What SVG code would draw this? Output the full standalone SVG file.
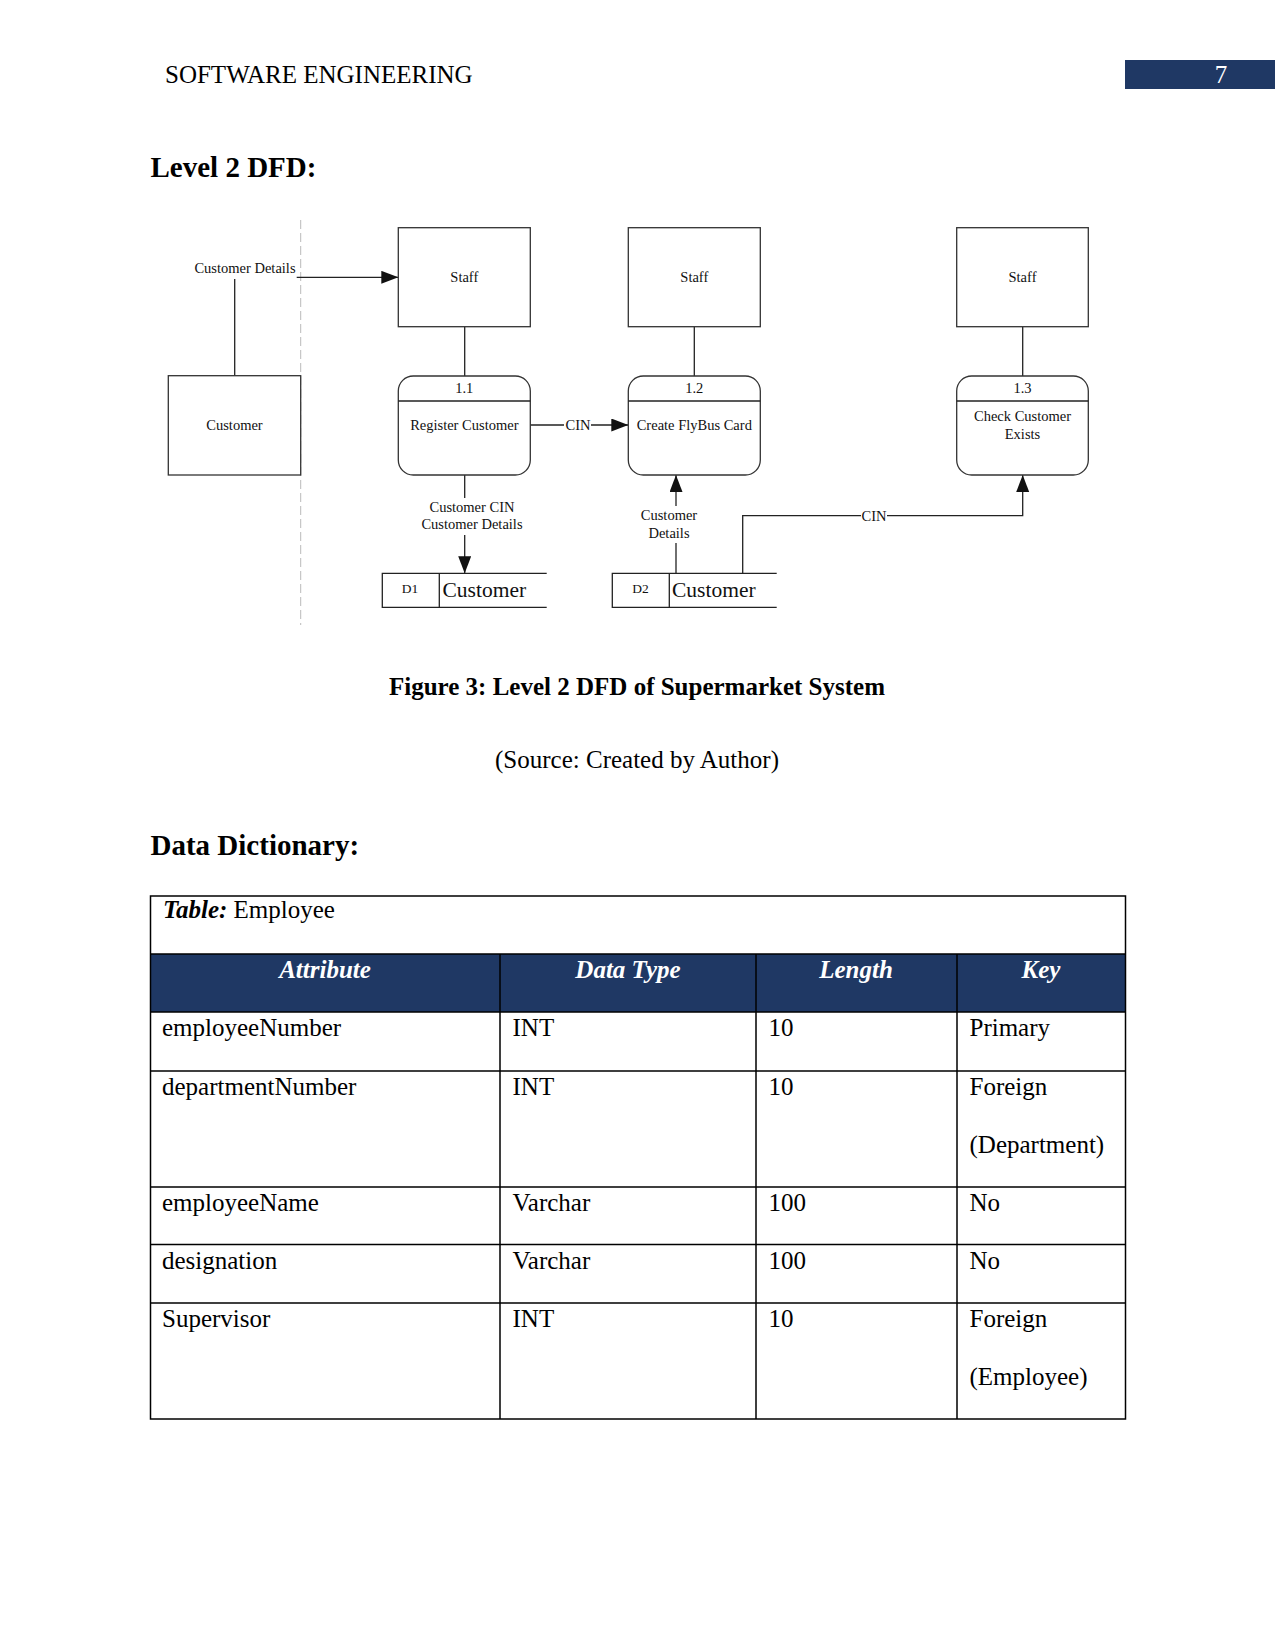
<svg xmlns="http://www.w3.org/2000/svg" width="1275" height="1651" viewBox="0 0 1275 1651">
<style>
.pg{font-family:"Liberation Serif","Times New Roman",serif;font-size:25px;fill:#000}
.b{font-weight:bold}
.h{font-family:"Liberation Serif","Times New Roman",serif;font-size:29px;font-weight:bold;fill:#000}
.d{font-family:"Liberation Serif","Times New Roman",serif;font-size:14.5px;fill:#111}
.ds{font-family:"Liberation Serif","Times New Roman",serif;font-size:13.5px;fill:#111}
.dl{font-family:"Liberation Serif","Times New Roman",serif;font-size:21.5px;fill:#111}
.box{fill:#fff;stroke:#333;stroke-width:1.3}
.ln{fill:none;stroke:#222;stroke-width:1.3}
.th{font-family:"Liberation Serif","Times New Roman",serif;font-size:25px;font-weight:bold;font-style:italic;fill:#fff}
.grid{stroke:#000;stroke-width:1.5;fill:none}
</style>
<defs>
<marker id="ar" markerUnits="userSpaceOnUse" markerWidth="18" markerHeight="14" refX="17" refY="6.5" orient="auto">
<path d="M0,0 L17,6.5 L0,13 z" fill="#111"/>
</marker>
</defs>
<rect width="1275" height="1651" fill="#fff"/>

<g id="header">
<text class="pg" x="165" y="83">SOFTWARE ENGINEERING</text>
<rect x="1125" y="60" width="150" height="29" fill="#1f3864"/>
<text class="pg" x="1221" y="83" text-anchor="middle" style="fill:#fff">7</text>
</g>
<text class="h" x="150.5" y="177">Level 2 DFD:</text>

<line x1="300.7" y1="220" x2="300.7" y2="625" stroke="#bbb" stroke-width="1" stroke-dasharray="9 4"/>

<g id="connectors">
<path class="ln" d="M234.7,375.7 V279"/>
<path class="ln" d="M296.7,277.3 H398.3" marker-end="url(#ar)"/>
<path class="ln" d="M464.7,326.7 V376"/>
<path class="ln" d="M694.3,326.7 V376"/>
<path class="ln" d="M1022.7,326.7 V376"/>
<path class="ln" d="M530.3,425 H564"/>
<path class="ln" d="M591,425 H628.3" marker-end="url(#ar)"/>
<path class="ln" d="M464.7,475 V498"/>
<path class="ln" d="M464.7,535 V573.3" marker-end="url(#ar)"/>
<path class="ln" d="M676,573.3 V543"/>
<path class="ln" d="M676,506 V475" marker-end="url(#ar)"/>
<path class="ln" d="M742.7,573.3 V515.7 H861"/>
<path class="ln" d="M887,515.7 H1022.7 V475" marker-end="url(#ar)"/>
<text class="d" x="245" y="273" text-anchor="middle">Customer Details</text>
<text class="d" x="578" y="429.5" text-anchor="middle">CIN</text>
<text class="d" x="472" y="511.7" text-anchor="middle">Customer CIN</text>
<text class="d" x="472" y="529.3" text-anchor="middle">Customer Details</text>
<text class="d" x="669" y="520" text-anchor="middle">Customer</text>
<text class="d" x="669" y="537.7" text-anchor="middle">Details</text>
<text class="d" x="874" y="520.5" text-anchor="middle">CIN</text>
</g>

<g id="customer">
<rect class="box" x="168.3" y="375.7" width="132.4" height="99.3"/>
<text class="d" x="234.5" y="430" text-anchor="middle">Customer</text>
</g>
<g id="staff1">
<rect class="box" x="398.3" y="227.7" width="132" height="99"/>
<text class="d" x="464.3" y="281.5" text-anchor="middle">Staff</text>
</g>
<g id="staff2">
<rect class="box" x="628.3" y="227.7" width="132" height="99"/>
<text class="d" x="694.3" y="281.5" text-anchor="middle">Staff</text>
</g>
<g id="staff3">
<rect class="box" x="956.7" y="227.7" width="131.6" height="99"/>
<text class="d" x="1022.5" y="281.5" text-anchor="middle">Staff</text>
</g>
<g id="p11">
<rect class="box" x="398.3" y="376" width="132" height="99" rx="15"/>
<line class="ln" x1="398.3" y1="401" x2="530.3" y2="401"/>
<text class="d" x="464.3" y="392.5" text-anchor="middle">1.1</text>
<text class="d" x="464.3" y="430" text-anchor="middle">Register Customer</text>
</g>
<g id="p12">
<rect class="box" x="628.3" y="376" width="132" height="99" rx="15"/>
<line class="ln" x1="628.3" y1="401" x2="760.3" y2="401"/>
<text class="d" x="694.3" y="392.5" text-anchor="middle">1.2</text>
<text class="d" x="694.3" y="430" text-anchor="middle">Create FlyBus Card</text>
</g>
<g id="p13">
<rect class="box" x="956.7" y="376" width="131.6" height="99" rx="15"/>
<line class="ln" x1="956.7" y1="401" x2="1088.3" y2="401"/>
<text class="d" x="1022.5" y="392.5" text-anchor="middle">1.3</text>
<text class="d" x="1022.5" y="421" text-anchor="middle">Check Customer</text>
<text class="d" x="1022.5" y="439" text-anchor="middle">Exists</text>
</g>
<g id="d1">
<path class="ln" d="M546.7,573.3 H382.3 V607.3 H546.7 M439.3,573.3 V607.3"/>
<text class="ds" x="410" y="593.3" text-anchor="middle">D1</text>
<text class="dl" x="442.5" y="596.5">Customer</text>
</g>
<g id="d2">
<path class="ln" d="M776.7,573.3 H612.3 V607.3 H776.7 M669.3,573.3 V607.3"/>
<text class="ds" x="640.5" y="593.3" text-anchor="middle">D2</text>
<text class="dl" x="672" y="596.5">Customer</text>
</g>

<text class="pg b" x="637" y="695" text-anchor="middle">Figure 3: Level 2 DFD of Supermarket System</text>
<text class="pg" x="637" y="768" text-anchor="middle">(Source: Created by Author)</text>
<text class="h" x="150.5" y="855">Data Dictionary:</text>

<g id="table">
<rect x="150.5" y="954" width="975" height="58" fill="#1f3864"/>
<rect class="grid" x="150.5" y="896" width="975" height="523"/>
<path class="grid" d="M150.5,954 H1125.5 M150.5,1012 H1125.5 M150.5,1071 H1125.5 M150.5,1187 H1125.5 M150.5,1244.5 H1125.5 M150.5,1303 H1125.5 M500,954 V1419 M756,954 V1419 M957,954 V1419"/>
<text class="pg" x="163" y="918"><tspan font-weight="bold" font-style="italic">Table:</tspan> Employee</text>
<text class="th" x="325" y="978" text-anchor="middle">Attribute</text>
<text class="th" x="628" y="978" text-anchor="middle">Data Type</text>
<text class="th" x="856" y="978" text-anchor="middle">Length</text>
<text class="th" x="1041" y="978" text-anchor="middle">Key</text>
<g class="pg">
<text x="162" y="1036">employeeNumber</text>
<text x="512.5" y="1036">INT</text>
<text x="768.5" y="1036">10</text>
<text x="969.5" y="1036">Primary</text>
<text x="162" y="1095">departmentNumber</text>
<text x="512.5" y="1095">INT</text>
<text x="768.5" y="1095">10</text>
<text x="969.5" y="1095">Foreign</text>
<text x="969.5" y="1153">(Department)</text>
<text x="162" y="1211">employeeName</text>
<text x="512.5" y="1211">Varchar</text>
<text x="768.5" y="1211">100</text>
<text x="969.5" y="1211">No</text>
<text x="162" y="1269">designation</text>
<text x="512.5" y="1269">Varchar</text>
<text x="768.5" y="1269">100</text>
<text x="969.5" y="1269">No</text>
<text x="162" y="1327">Supervisor</text>
<text x="512.5" y="1327">INT</text>
<text x="768.5" y="1327">10</text>
<text x="969.5" y="1327">Foreign</text>
<text x="969.5" y="1385">(Employee)</text>
</g>
</g>
</svg>
